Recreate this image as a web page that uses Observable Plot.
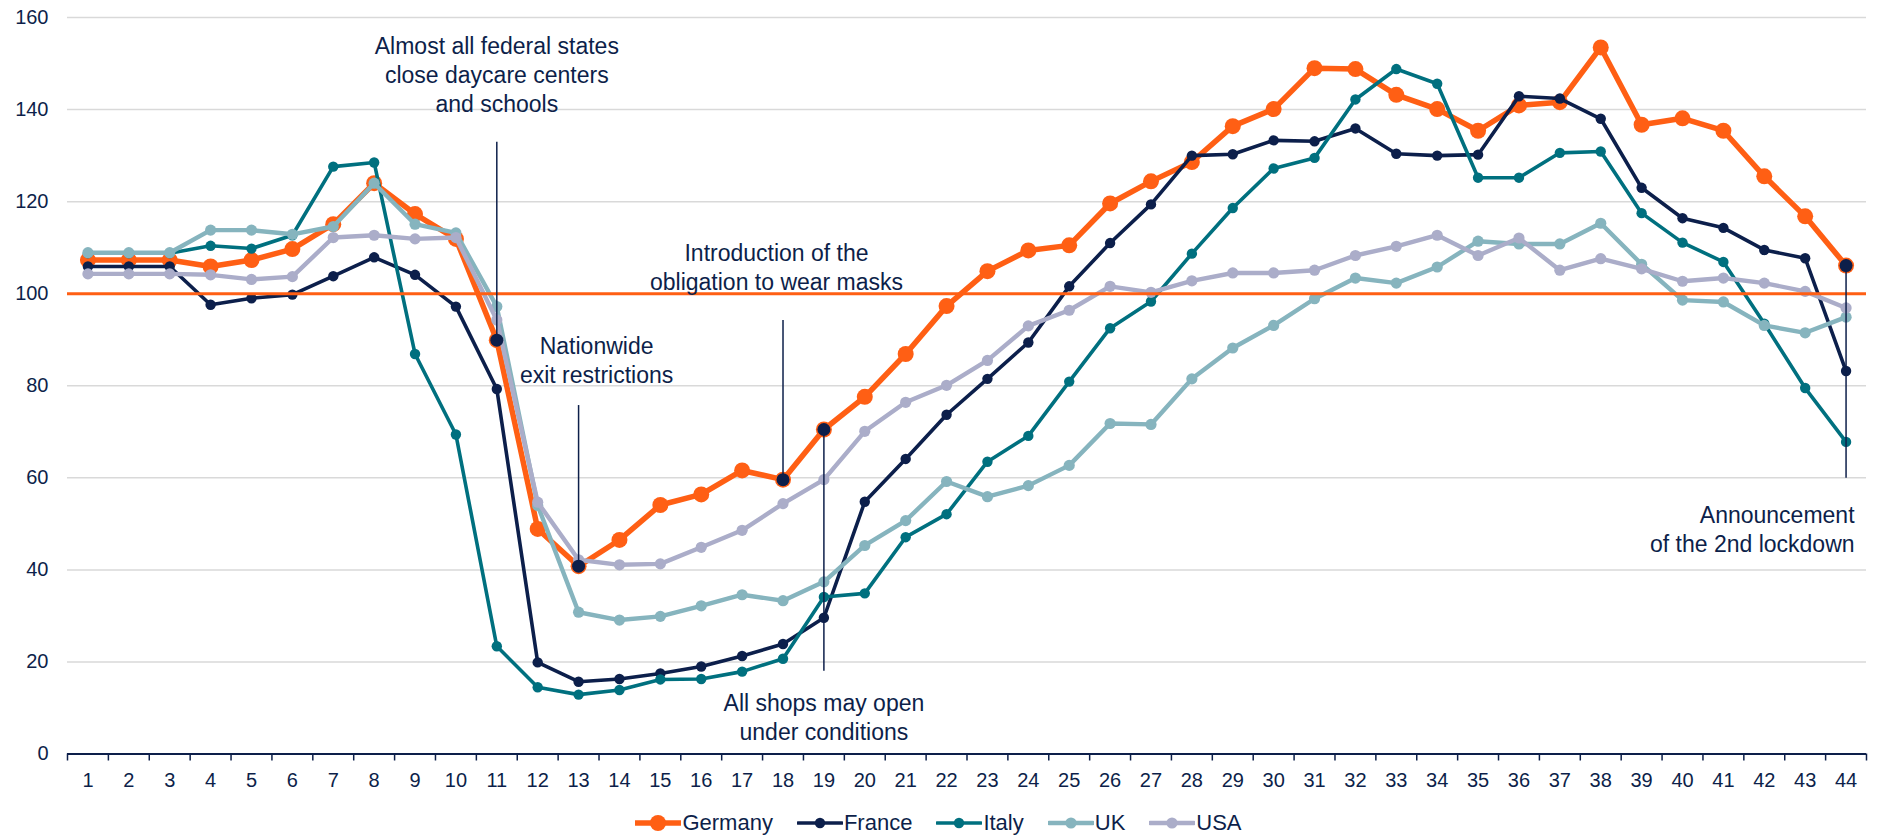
<!DOCTYPE html>
<html>
<head>
<meta charset="utf-8">
<script src="https://cdn.jsdelivr.net/npm/d3@7"></script>
<script src="https://cdn.jsdelivr.net/npm/@observablehq/plot@0.6"></script>
<style>
  body { margin: 0; background: #fff; font-family: "Liberation Sans", Arial, sans-serif; }
  #chart { position: relative; width: 1877px; height: 836px; overflow: hidden; }
  #legend { position: absolute; left: 0; top: 809px; width: 1877px; height: 28px; display: flex; justify-content: center; align-items: center; font-size: 22px; color: #0d1f4a; }
  .item { display: flex; align-items: center; margin: 0 12px; }
  .item svg { display: block; margin-right: 1px; }
</style>
</head>
<body>
<div id="chart"></div>
<script>
// ---- data ----
const weeks = d3.range(1, 45);
const yTicks = [0, 20, 40, 60, 80, 100, 120, 140, 160];
const seriesNames = ["Germany", "France", "Italy", "UK", "USA"];

const germany = [107.3, 107.3, 107.3, 105.9, 107.3, 109.7, 115.1, 124.0, 117.3, 111.9,
  89.9, 48.9, 40.8, 46.5, 54.1, 56.4, 61.6, 59.6, 70.5, 77.6,
  86.9, 97.3, 104.9, 109.4, 110.5, 119.6, 124.4, 128.6, 136.4, 140.1,
  149.0, 148.8, 143.2, 140.1, 135.4, 140.9, 141.6, 153.5, 136.7, 138.1,
  135.4, 125.5, 116.8, 106.1];
const france = [105.9, 105.9, 105.9, 97.6, 99.0, 99.8, 103.8, 107.9, 104.1, 97.2,
  79.3, 19.9, 15.7, 16.3, 17.5, 19.0, 21.3, 23.9, 29.6, 54.8,
  64.1, 73.7, 81.5, 89.4, 101.6, 111.0, 119.4, 130.0, 130.3, 133.3,
  133.1, 135.9, 130.4, 130.0, 130.2, 142.9, 142.4, 138.0, 123.0, 116.4,
  114.3, 109.5, 107.7, 83.2];
const italy = [108.8, 108.8, 108.8, 110.4, 109.8, 112.7, 127.6, 128.5, 86.9, 69.4,
  23.4, 14.5, 12.9, 13.9, 16.2, 16.3, 17.9, 20.7, 34.1, 34.9,
  47.1, 52.1, 63.5, 69.1, 80.9, 92.5, 98.3, 108.7, 118.6, 127.2,
  129.5, 142.2, 148.8, 145.6, 125.2, 125.2, 130.6, 130.9, 117.5, 111.1,
  106.9, 93.5, 79.5, 67.8];
const uk = [108.9, 108.9, 108.9, 113.8, 113.8, 112.9, 114.6, 124.0, 115.1, 113.2,
  97.2, 54.0, 30.8, 29.1, 29.9, 32.2, 34.6, 33.3, 37.4, 45.3,
  50.7, 59.2, 55.9, 58.3, 62.7, 71.8, 71.6, 81.5, 88.2, 93.1,
  98.9, 103.4, 102.3, 105.8, 111.4, 110.8, 110.8, 115.3, 106.4, 98.6,
  98.2, 93.1, 91.5, 94.9];
const usa = [104.3, 104.3, 104.3, 104.1, 103.1, 103.7, 112.2, 112.7, 111.9, 112.2,
  94.3, 54.7, 42.2, 41.1, 41.3, 44.9, 48.6, 54.4, 59.6, 70.1,
  76.4, 80.1, 85.5, 93.0, 96.4, 101.6, 100.3, 102.8, 104.5, 104.5,
  105.1, 108.3, 110.3, 112.7, 108.3, 112.1, 105.1, 107.6, 105.4, 102.7,
  103.4, 102.3, 100.5, 96.9];
const reference = [100];

// annotations: week, rule extent (index values), label text
const annWeeks = [11, 13, 18, 19, 44];
const annTop = [132.9, 75.7, 94.2, 70.5, 106.1];
const annBottom = [89.9, 40.8, 59.6, 18.0, 59.9];
const annLabels = [
  "Almost all federal states\nclose daycare centers\nand schools",
  "Nationwide\nexit restrictions",
  "Introduction of the\nobligation to wear masks",
  "All shops may open\nunder conditions",
  "Announcement\nof the 2nd lockdown"
];
const annLabelY = [147.8, 85.7, 105.9, 8.2, 49.1];

// ---- styles ----
const NAVY = "#0d1f4a";
const colors = {Germany: "#ff5f14", France: "#0c1f4b", Italy: "#00707f", UK: "#86b4be", USA: "#abadc9"};
const widths = {Germany: 5.5, France: 3.6, Italy: 3.6, UK: 4.4, USA: 4.4};
const radii = {Germany: 8, France: 5.2, Italy: 5.2, UK: 5.6, USA: 5.6};
const annDx = [0, 18, -6.5, 0, 8.5];
const annAnchor = ["middle", "middle", "middle", "middle", "end"];

const valuesBy = {Germany: germany, France: france, Italy: italy, UK: uk, USA: usa};
const seriesData = name => weeks.map((w, i) => ({week: w, value: valuesBy[name][i], series: name}));
const annotations = annWeeks.map((w, i) => ({week: w, top: annTop[i], bottom: annBottom[i], label: annLabels[i], labelY: annLabelY[i], germany: germany[w - 1]}));
const boundaries = d3.range(0.5, 45, 1);

const marks = [
  Plot.gridY(yTicks.filter(d => d > 0), {stroke: "#d9d9d9", strokeOpacity: 1, strokeWidth: 1.5}),
  Plot.axisY(yTicks, {tickSize: 0, tickPadding: 19, fontSize: 20, fill: NAVY, label: null}),
  Plot.ruleY([0], {stroke: NAVY, strokeWidth: 2}),
  Plot.axisX(boundaries, {tickSize: 7, stroke: NAVY, strokeWidth: 1.5, tickFormat: () => "", label: null}),
  Plot.axisX(weeks, {tickSize: 0, tickPadding: 19, fontSize: 20, fill: NAVY, label: null, tickFormat: d => String(d)})
];
for (const name of seriesNames) {
  const d = seriesData(name);
  marks.push(Plot.line(d, {x: "week", y: "value", stroke: colors[name], strokeWidth: widths[name], strokeLinejoin: "round"}));
  marks.push(Plot.dot(d, {x: "week", y: "value", fill: colors[name], r: radii[name]}));
}
marks.push(Plot.ruleY(reference, {stroke: "#ff5f14", strokeWidth: 3}));
marks.push(Plot.ruleX(annotations, {x: "week", y1: "top", y2: "bottom", stroke: NAVY, strokeWidth: 1.5}));
marks.push(Plot.dot(annotations, {x: "week", y: "germany", fill: NAVY, r: 6.5}));
annotations.forEach((a, i) => {
  marks.push(Plot.text([a], {x: "week", y: "labelY", text: "label", dx: annDx[i], textAnchor: annAnchor[i], lineAnchor: "middle", lineHeight: 1.26, fontSize: 23, fill: NAVY}));
});

const plot = Plot.plot({
  width: 1877,
  height: 800,
  marginLeft: 67,
  marginRight: 11,
  marginTop: 17,
  marginBottom: 46.5,
  x: {type: "linear", domain: [0.5, 44.5]},
  y: {type: "linear", domain: [0, 160]},
  style: {fontFamily: "Liberation Sans, Arial, sans-serif", color: NAVY, background: "#fff", overflow: "visible"},
  marks
});

const chart = document.getElementById("chart");
chart.appendChild(plot);

// legend
const legend = document.createElement("div");
legend.id = "legend";
for (const name of seriesNames) {
  const item = document.createElement("div");
  item.className = "item";
  const ns = "http://www.w3.org/2000/svg";
  const svg = document.createElementNS(ns, "svg");
  svg.setAttribute("width", 46); svg.setAttribute("height", 20);
  const line = document.createElementNS(ns, "line");
  line.setAttribute("x1", 1); line.setAttribute("x2", 45); line.setAttribute("y1", 10); line.setAttribute("y2", 10);
  line.setAttribute("stroke", colors[name]); line.setAttribute("stroke-width", widths[name]);
  line.setAttribute("stroke-linecap", "round");
  const c = document.createElementNS(ns, "circle");
  c.setAttribute("cx", 23); c.setAttribute("cy", 10); c.setAttribute("r", radii[name]);
  c.setAttribute("fill", colors[name]);
  svg.appendChild(line); svg.appendChild(c);
  const t = document.createElement("span");
  t.textContent = name;
  item.appendChild(svg); item.appendChild(t);
  legend.appendChild(item);
}
chart.appendChild(legend);
</script>
</body>
</html>
